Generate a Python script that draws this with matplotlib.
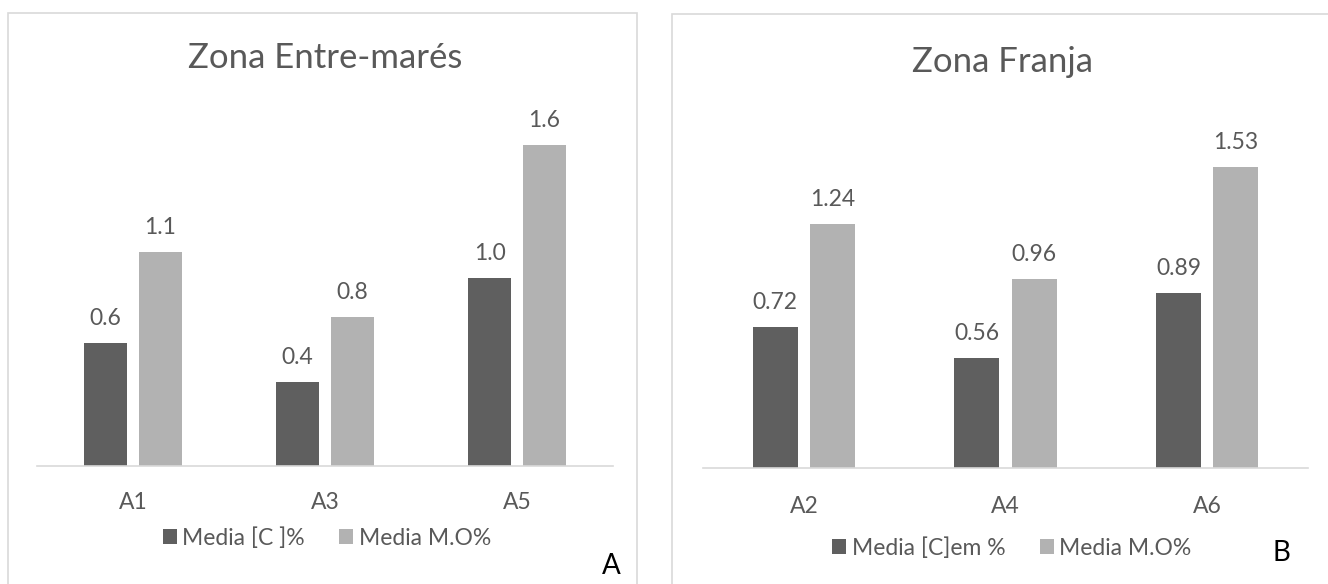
import numpy as np
from matplotlib import pyplot as plt
from matplotlib.patches import Rectangle

plt.rcParams['font.family'] = ['Lato', 'DejaVu Sans']

# Zona Entre-mares (panel A)
sitios_a = ['A1', 'A3', 'A5']
carbono_a = [0.63, 0.43, 0.96]
materia_a = [1.09, 0.76, 1.64]

# Zona Franja (panel B)
sitios_b = ['A2', 'A4', 'A6']
carbono_b = [0.72, 0.56, 0.89]
materia_b = [1.24, 0.96, 1.53]

W, H = 1328, 584
OSCURO = '#5f5f5f'
CLARO = '#b2b2b2'
TEXTO = '#595959'
LINEA = '#d9d9d9'
FS = 16.5


def caja(x0, x1, ybase, ytop):
    # pixel box -> figure fraction
    return [x0 / W, 1 - ybase / H, (x1 - x0) / W, (ybase - ytop) / H]


def fx(x):
    return x / W


def fy(y):
    return 1 - y / H


fig = plt.figure(figsize=(W / 100, H / 100), dpi=100)

# chart area borders
fig.add_artist(Rectangle((fx(8), fy(620)), fx(637) - fx(8), fy(13) - fy(620),
                         transform=fig.transFigure, fill=False,
                         edgecolor=LINEA, lw=1.2))
fig.add_artist(Rectangle((fx(672), fy(620)), fx(1360) - fx(672), fy(14) - fy(620),
                         transform=fig.transFigure, fill=False,
                         edgecolor=LINEA, lw=1.2))


def panel(rect, sitios, carbono, materia, fmt, titulo, tpos, leyenda, lpos,
          letra, letpos, pad):
    ax = fig.add_axes(rect)
    x = np.arange(len(sitios))
    b1 = ax.bar(x - 0.142, carbono, width=0.224, color=OSCURO, label=leyenda[0])
    b2 = ax.bar(x + 0.142, materia, width=0.224, color=CLARO, label=leyenda[1])
    for b, vals in ((b1, carbono), (b2, materia)):
        ax.bar_label(b, labels=[fmt.format(v) for v in vals], padding=10,
                     fontsize=FS, color=TEXTO)
    ax.set_xlim(-0.5, len(sitios) - 0.5)
    ax.set_ylim(0, 1.8)
    ax.set_xticks(x)
    ax.set_xticklabels(sitios)
    ax.set_yticks([])
    ax.tick_params(axis='x', length=0, pad=pad, labelsize=FS, labelcolor=TEXTO)
    for s in ('top', 'left', 'right'):
        ax.spines[s].set_visible(False)
    ax.spines['bottom'].set_color(LINEA)
    ax.spines['bottom'].set_linewidth(1.2)
    ax.patch.set_visible(False)
    fig.text(fx(tpos[0]), fy(tpos[1]), titulo, ha='center', va='center',
             fontsize=25, color=TEXTO)
    ax.legend(loc='center', bbox_to_anchor=(fx(lpos[0]), fy(lpos[1])),
              bbox_transform=fig.transFigure, ncol=2, frameon=False,
              fontsize=FS, labelcolor=TEXTO, handlelength=0.6,
              handleheight=0.6, handletextpad=0.25, columnspacing=1.5)
    fig.text(fx(letpos[0]), fy(letpos[1]), letra, ha='center', va='center',
             fontsize=20, color='black')
    return ax


panel(caja(37, 613, 466, 466 - 1.8 * 196), sitios_a, carbono_a, materia_a,
      '{:.1f}', 'Zona Entre-marés', (325, 58),
      ['Media [C ]%', 'Media M.O%'], (327, 538), 'A', (611, 566), 19)

panel(caja(703, 1308, 468, 468 - 1.8 * 196.5), sitios_b, carbono_b, materia_b,
      '{:.2f}', 'Zona Franja', (1003, 62),
      ['Media [C]em %', 'Media M.O%'], (1012, 548), 'B', (1281, 553), 20)

fig.savefig('out.png', dpi=100)
